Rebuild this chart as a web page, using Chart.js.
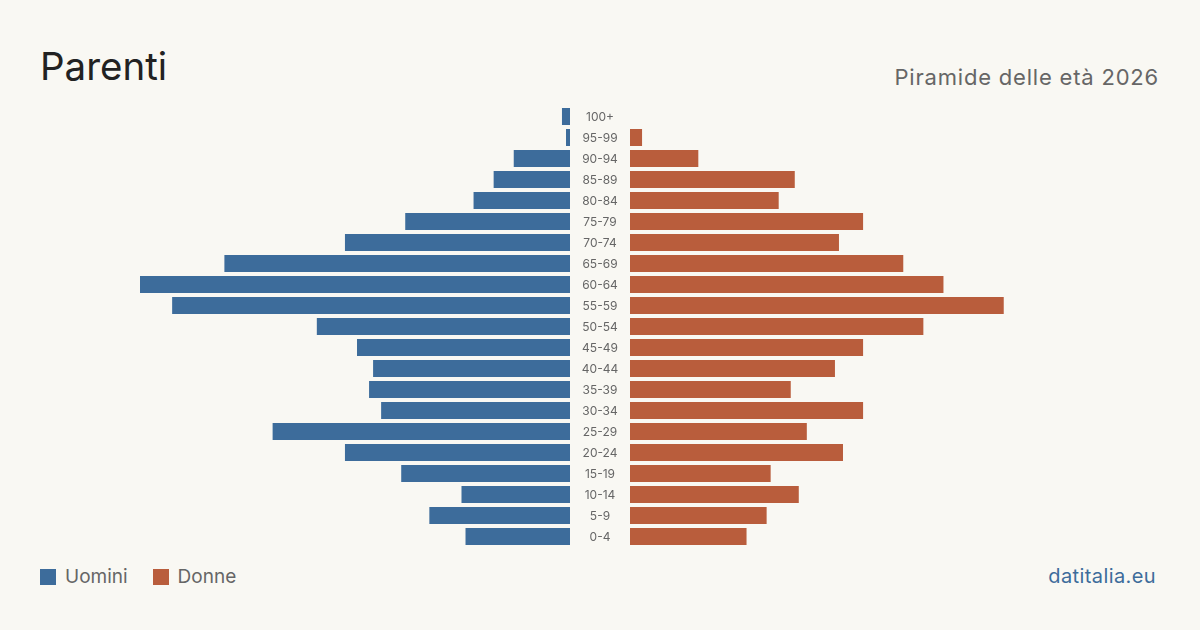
<!DOCTYPE html>
<html>
<head>
<meta charset="utf-8">
<script src="https://cdn.jsdelivr.net/npm/chart.js@4"></script>
<style>
  html, body { margin: 0; padding: 0; }
  body { width: 1200px; height: 630px; background: #f9f8f3; position: relative; overflow: hidden; font-family: Inter, "Noto Sans", sans-serif; }
  .title { position: absolute; left: 40px; top: 46px; font-size: 38.5px; line-height: 40px; color: #222; }
  .subtitle { position: absolute; right: 41px; top: 66px; font-size: 22px; line-height: 22px; color: #666; letter-spacing: 0.8px; }
  .legend { position: absolute; left: 40px; top: 567px; font-size: 19px; line-height: 19px; color: #666; display: flex; align-items: center; }
  .legend .sw { width: 16px; height: 16px; display: inline-block; margin-right: 9px; }
  .legend .item { display: flex; align-items: center; margin-right: 25px; }
  .source { position: absolute; right: 44px; top: 566px; font-size: 20px; line-height: 20px; color: #3d6c9b; letter-spacing: 0.4px; }
  #left { position: absolute; left: 140px; top: 106px; }
  #right { position: absolute; left: 630px; top: 106px; }
</style>
</head>
<body>
<div class="title">Parenti</div>
<div class="subtitle">Piramide delle età 2026</div>
<div class="legend">
  <span class="item"><span class="sw" style="background:#3d6c9b"></span>Uomini</span>
  <span class="item"><span class="sw" style="background:#b95d3c"></span>Donne</span>
</div>
<div class="source">datitalia.eu</div>
<div id="left"><canvas id="cl" width="490" height="441"></canvas></div>
<div id="right"><canvas id="cr" width="430" height="441"></canvas></div>
<script>
const ages = ['100+', '95-99', '90-94', '85-89', '80-84', '75-79', '70-74', '65-69', '60-64', '55-59', '50-54',
    '45-49', '40-44', '35-39', '30-34', '25-29', '20-24', '15-19', '10-14', '5-9', '0-4'];
const uomini = [2, 1, 14, 19, 24, 41, 56, 86, 107, 99, 63, 53, 49, 50, 47, 74, 56, 42, 27, 35, 26];
const donne = [0, 3, 17, 41, 37, 58, 52, 68, 78, 93, 73, 58, 51, 40, 58, 44, 53, 35, 42, 34, 29];

const blue = '#3d6c9b';
const orange = '#b95d3c';
const maxVal = Math.max(...uomini, ...donne);

// draws the age labels centred in the gap between the two halves
const centerLabels = {
    id: 'centerLabels',
    afterDraw(chart) {
        const y = chart.scales.y;
        const ctx = chart.ctx;
        ctx.save();
        ctx.font = '12px Inter, "Noto Sans", sans-serif';
        ctx.fillStyle = '#666';
        ctx.textAlign = 'center';
        ctx.textBaseline = 'middle';
        ages.forEach((a, i) => {
            ctx.fillText(a, y.left + y.width / 2, y.getPixelForValue(i) + 0.5);
        });
        ctx.restore();
    }
};

const common = {
    indexAxis: 'y',
    responsive: false,
    animation: false,
    layout: { padding: 0 },
    plugins: { legend: { display: false }, tooltip: { enabled: true } },
};

new Chart(document.getElementById('cl').getContext('2d'), {
    type: 'bar',
    data: {
        labels: ages,
        datasets: [{
            data: uomini,
            backgroundColor: blue,
            barPercentage: 0.81,
            categoryPercentage: 1,
        }],
    },
    options: {
        ...common,
        scales: {
            x: { display: false, reverse: true, min: 0, max: maxVal },
            y: {
                position: 'right',
                grid: { display: false },
                border: { display: false },
                ticks: { display: false },
                afterFit: (scale) => { scale.width = 60; },
            },
        },
    },
    plugins: [centerLabels],
});

new Chart(document.getElementById('cr').getContext('2d'), {
    type: 'bar',
    data: {
        labels: ages,
        datasets: [{
            data: donne,
            backgroundColor: orange,
            barPercentage: 0.81,
            categoryPercentage: 1,
        }],
    },
    options: {
        ...common,
        scales: {
            x: { display: false, min: 0, max: maxVal },
            y: { display: false },
        },
    },
});
</script>
</body>
</html>
